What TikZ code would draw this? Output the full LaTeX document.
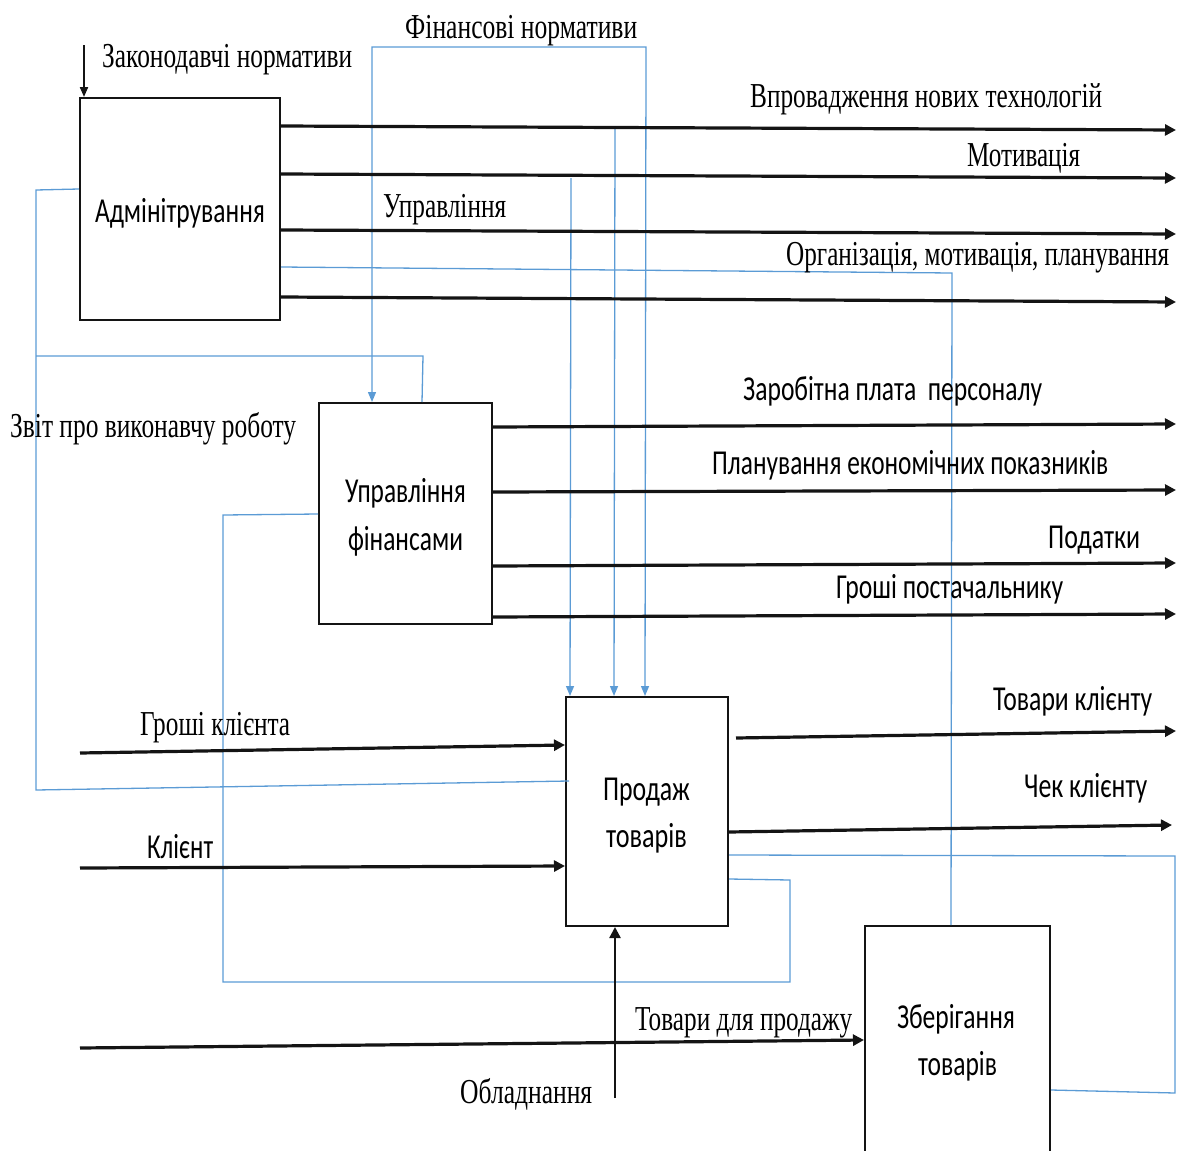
\documentclass[tikz,border=0pt]{standalone}
\usepackage{fontspec}
\usetikzlibrary{arrows.meta,calc}
\newfontfamily\lserif{Liberation Serif}
\newfontfamily\lsans{Carlito}
\definecolor{ctlblue}{RGB}{91,155,213}
\definecolor{inkline}{RGB}{20,20,20}
% set a text at its natural height, squeezed to a given width
\newsavebox\fitbox
\newcommand\fitto[2]{\sbox\fitbox{#2}\pgfmathsetmacro\fitk{#1/\the\wd\fitbox}\scalebox{\fitk}[1]{\usebox\fitbox}}
\tikzset{
  box/.style={draw=inkline, line width=2pt, inner sep=0pt},
  flow/.style={draw=inkline, line width=3.2pt, -{Triangle[length=11pt,width=11pt]}},
  flowplain/.style={draw=inkline, line width=3.2pt},
  ctl/.style={draw=ctlblue, line width=1.3pt},
  ctltip/.style={-{Triangle[length=10pt,width=8pt]}},
  ser/.style={font=\lserif\fontsize{35}{42}\selectfont, inner sep=0pt, anchor=base west},
  san/.style={font=\lsans\fontsize{35}{42}\selectfont, inner sep=0pt, anchor=base west},
  boxtext/.style={font=\lsans\fontsize{35}{42}\selectfont, inner sep=0pt, anchor=base},
}
\begin{document}
\begin{tikzpicture}[x=1pt, y=-1pt]
\useasboundingbox (0,0) rectangle (1178,1151);

% function blocks
\node[box, minimum width=200pt, minimum height=222pt] (adm) at (180,209) {};
\node[box, minimum width=173pt, minimum height=221pt] (fin) at (405.5,513.5) {};
\node[box, minimum width=162pt, minimum height=229pt] (sale) at (647,811.5) {};
\node[box, minimum width=185pt, minimum height=228pt] (store) at (957.5,1040) {};

% free ends of the arrows
\coordinate (zakIn) at (84,45);
\coordinate (admO1) at (1176,130);
\coordinate (admO2) at (1176,178);
\coordinate (admO3) at (1176,234);
\coordinate (admO4) at (1176,302);
\coordinate (finO1) at (1176,424);
\coordinate (finO2) at (1176,490);
\coordinate (finO3) at (1176,563);
\coordinate (finO4) at (1176,614);
\coordinate (moneyIn) at (80,753);
\coordinate (clientIn) at (80,868);
\coordinate (goodsIn) at (80,1048);
\coordinate (equipIn) at (615,1098);
\coordinate (saleO1) at (1176,731);
\coordinate (saleO2) at (1172,825);
\coordinate (tapA) at (615,127);
\coordinate (tapB) at (571,178);

% control and feedback lines
\draw[ctl, {Triangle[length=10pt,width=8pt]}-{Triangle[length=10pt,width=8pt]}]
  ($(fin.north west)+(54,0)$) -- (372,47) -- (646,47) -- ($(sale.north west)+(80,0)$);
\draw[ctl, ctltip] (tapA) -- ($(sale.north west)+(49,0)$);
\draw[ctl, ctltip] (tapB) -- ($(sale.north west)+(5,0)$);
\draw[ctl] ($(adm.north east)+(0,170)$) -- (952,273) -- ($(store.north west)+(87,0)$);
\draw[ctl] ($(adm.north west)+(0,92)$) -- (36,190) -- (36,790) -- ($(sale.north west)+(4,85)$);
\draw[ctl] ($(fin.north west)+(104,0)$) -- (423,356) -- (36,356);
\draw[ctl] ($(fin.north west)+(0,112)$) -- (223,515) -- (223,982) -- (790,982) -- (790,880)
  -- ($(sale.north east)+(0,183)$);
\draw[ctl] ($(sale.north east)+(0,159)$) -- (1175,856) -- (1175,1093) -- ($(store.north east)+(0,165)$);

% flows
\draw[flow, line width=2pt, -{Triangle[length=10pt,width=8pt]}] (zakIn) -- (adm.north west -| zakIn);
\draw[flow] ($(adm.north east)+(0,29)$) -- (admO1);
\draw[flow] ($(adm.north east)+(0,77)$) -- (admO2);
\draw[flow] ($(adm.north east)+(0,133)$) -- (admO3);
\draw[flow] ($(adm.north east)+(0,200)$) -- (admO4);
\draw[flow] ($(fin.north east)+(0,25)$) -- (finO1);
\draw[flow] ($(fin.north east)+(0,90)$) -- (finO2);
\draw[flow] ($(fin.north east)+(0,164)$) -- (finO3);
\draw[flow] ($(fin.north east)+(0,215)$) -- (finO4);
\draw[flow] (moneyIn) -- ($(sale.north west)+(0,49)$);
\draw[flow] (clientIn) -- ($(sale.north west)+(0,170)$);
\draw[flow] (goodsIn) -- ($(store.north west)+(0,115)$);
\draw[flow, line width=2.4pt] (equipIn) -- (sale.south -| equipIn);
\draw[flow] ($(sale.north east)+(7,42)$) -- (saleO1);
\draw[flow] ($(sale.north east)+(0,136)$) -- (saleO2);

% block titles
\node[boxtext] (admT) at (180,222) {\fitto{170}{Адмінітрування}};
\node[boxtext] (finT1) at (405.5,502) {\fitto{121}{Управління}};
\node[boxtext] (finT2) at (405.5,550) {\fitto{115}{фінансами}};
\node[boxtext] (saleT1) at (646.5,800) {\fitto{87}{Продаж}};
\node[boxtext] (saleT2) at (646.5,847) {\fitto{81}{товарів}};
\node[boxtext] (storeT1) at (956,1028) {\fitto{118}{Зберігання}};
\node[boxtext] (storeT2) at (957.5,1075) {\fitto{79}{товарів}};

% arrow labels
\node[ser] (lZak) at (102,67) {\fitto{250}{Законодавчі нормативи}};
\node[ser] (lFinN) at (405,38) {\fitto{232}{Фінансові нормативи}};
\node[ser] (lTech) at (750,107) {\fitto{352}{Впровадження нових технологій}};
\node[ser] (lMot) at (967,166) {\fitto{113}{Мотивація}};
\node[ser] (lUpr) at (383,217) {\fitto{123}{Управління}};
\node[ser] (lOrg) at (786,265) {\fitto{383}{Організація, мотивація, планування}};
\node[ser] (lRep) at (10,437) {\fitto{286}{Звіт про виконавчу роботу}};
\node[san] (lWage) at (743,400) {\fitto{299}{Заробітна плата\ \ персоналу}};
\node[san] (lPlan) at (712,474) {\fitto{396}{Планування економічних показників}};
\node[san] (lTax) at (1048,548) {\fitto{92}{Податки}};
\node[san] (lSup) at (836,598) {\fitto{227}{Гроші постачальнику}};
\node[ser] (lMoney) at (140,735) {\fitto{150}{Гроші клієнта}};
\node[san] (lClient) at (147,858) {\fitto{66}{Клієнт}};
\node[san] (lGoodsC) at (993,710) {\fitto{159}{Товари клієнту}};
\node[san] (lCheck) at (1024,797) {\fitto{123}{Чек клієнту}};
\node[ser] (lGoods) at (635,1030) {\fitto{217}{Товари для продажу}};
\node[ser] (lEquip) at (460,1103) {\fitto{132}{Обладнання}};
\end{tikzpicture}
\end{document}
